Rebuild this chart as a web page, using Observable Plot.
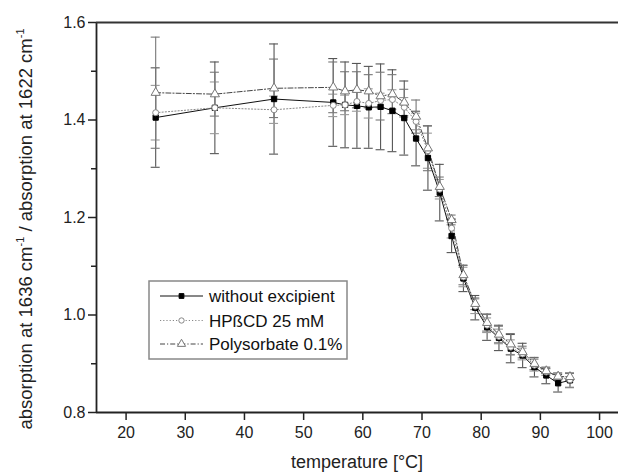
<!DOCTYPE html>
<html>
<head>
<meta charset="utf-8">
<script src="https://cdn.jsdelivr.net/npm/d3@7"></script>
<script src="https://cdn.jsdelivr.net/npm/@observablehq/plot@0.6"></script>
<style>
  html, body { margin: 0; padding: 0; background: #fff; }
  #chart { width: 618px; height: 473px; overflow: hidden; }
  svg { font-family: "Liberation Sans", Arial, sans-serif; }
</style>
</head>
<body>
<div id="chart"></div>
<script>
// ---- data ----
const temps = [25, 35, 45, 55, 57, 59, 61, 63, 65, 67, 69, 71, 73, 75, 77, 79, 81, 83, 85, 87, 89, 91, 93, 95];

const noExcipient    = [1.405, 1.425, 1.443, 1.436, 1.431, 1.429, 1.426, 1.427, 1.419, 1.404, 1.362, 1.322, 1.251, 1.162, 1.075, 1.015, 0.975, 0.953, 0.931, 0.917, 0.893, 0.876, 0.860, 0.866];
const noExcipientErr = [0.102, 0.094, 0.113, 0.090, 0.088, 0.087, 0.084, 0.088, 0.084, 0.076, 0.056, 0.066, 0.058, 0.034, 0.027, 0.025, 0.027, 0.026, 0.029, 0.025, 0.020, 0.017, 0.018, 0.015];

const hpbcd    = [1.415, 1.425, 1.421, 1.430, 1.431, 1.438, 1.434, 1.440, 1.442, 1.426, 1.397, 1.337, 1.258, 1.178, 1.078, 1.018, 0.979, 0.956, 0.934, 0.920, 0.897, 0.883, 0.874, 0.867];
const hpbcdErr = [0.056, 0.053, 0.028, 0.023, 0.020, 0.020, 0.030, 0.015, 0.020, 0.020, 0.017, 0.036, 0.020, 0.020, 0.020, 0.015, 0.015, 0.015, 0.015, 0.012, 0.012, 0.007, 0.007, 0.015];

const polysorbate    = [1.456, 1.453, 1.465, 1.467, 1.459, 1.462, 1.459, 1.449, 1.453, 1.436, 1.407, 1.342, 1.263, 1.195, 1.082, 1.023, 0.984, 0.960, 0.940, 0.924, 0.900, 0.885, 0.874, 0.873];
const polysorbateErr = [0.114, 0.045, 0.060, 0.052, 0.040, 0.037, 0.034, 0.049, 0.040, 0.027, 0.034, 0.046, 0.020, 0.010, 0.020, 0.012, 0.017, 0.017, 0.022, 0.012, 0.012, 0.005, 0.007, 0.007];

const seriesNames = ["without excipient", "HPßCD 25 mM", "Polysorbate 0.1%"];
const xTicks = [20, 30, 40, 50, 60, 70, 80, 90, 100];
const yTicks = [0.8, 1.0, 1.2, 1.4, 1.6];
const yMinorTicks = [0.9, 1.1, 1.3, 1.5];
const xDomain = [15, 103.2];
const yDomain = [0.8, 1.6];
const xTitle = "temperature [°C]";

// ---- tables ----
function rows(vals, errs, name) {
  return temps.map((t, i) => ({t, v: vals[i], lo: vals[i] - errs[i], hi: vals[i] + errs[i], name}));
}
const sA = rows(noExcipient, noExcipientErr, seriesNames[0]);
const sB = rows(hpbcd, hpbcdErr, seriesNames[1]);
const sC = rows(polysorbate, polysorbateErr, seriesNames[2]);

const styles = [
  {data: sA, line: "#111", dash: null, err: "#555", symbol: "square", fill: "#000", stroke: "#000", r: 3.0},
  {data: sB, line: "#888", dash: "1.2,2", err: "#999", symbol: "circle", fill: "#fff", stroke: "#888", r: 3.0},
  {data: sC, line: "#444", dash: "5,2,1.2,2", err: "#777", symbol: "triangle", fill: "#fff", stroke: "#777", r: 3.4}
];

const errMarks = [];
const lineMarks = [];
const dotMarks = [];
for (const s of styles) {
  errMarks.push(Plot.ruleX(s.data, {x: "t", y1: "lo", y2: "hi", stroke: s.err, strokeWidth: 1.1}));
  errMarks.push(Plot.ruleY(s.data, {y: "hi", x1: "t", x2: "t", insetLeft: -4.5, insetRight: -4.5, stroke: s.err, strokeWidth: 1.1}));
  errMarks.push(Plot.ruleY(s.data, {y: "lo", x1: "t", x2: "t", insetLeft: -4.5, insetRight: -4.5, stroke: s.err, strokeWidth: 1.1}));
  lineMarks.push(Plot.line(s.data, {x: "t", y: "v", stroke: s.line, strokeWidth: 1, strokeDasharray: s.dash}));
  dotMarks.push(Plot.dot(s.data, {x: "t", y: "v", symbol: () => s.symbol, r: s.r, fill: s.fill, stroke: s.stroke, strokeWidth: 1}));
}

const plot = Plot.plot({
  width: 618,
  height: 473,
  marginTop: 22,
  marginBottom: 61,
  marginLeft: 96,
  marginRight: 0,
  style: {fontFamily: "'Liberation Sans', Arial, sans-serif", background: "#fff", overflow: "hidden"},
  x: {domain: xDomain, axis: null},
  y: {domain: yDomain, axis: null},
  symbol: {type: "identity"},
  marks: [
    ...errMarks,
    ...lineMarks,
    ...dotMarks,
    Plot.axisX({ticks: xTicks, tickSize: 8, tickPadding: 6, fontSize: 16, label: null, stroke: "#222", strokeWidth: 1.5, color: "#222"}),
    Plot.axisY({ticks: yTicks, tickSize: 8, tickPadding: 3, fontSize: 16, label: null, tickFormat: d3.format(".1f"), stroke: "#222", strokeWidth: 1.5, color: "#222"}),
    Plot.axisY({ticks: yMinorTicks, tickSize: 5, label: null, tickFormat: () => "", stroke: "#222", strokeWidth: 1.5}),
    Plot.ruleX([xDomain[0]], {stroke: "#222", strokeWidth: 1.8}),
    Plot.ruleY([yDomain[0]], {stroke: "#222", strokeWidth: 1.8}),
    Plot.ruleY([yDomain[1]], {stroke: "#333", strokeWidth: 1.8})
  ]
});

document.getElementById("chart").appendChild(plot);

// ---- axis titles and legend ----
const svg = d3.select(plot);

svg.append("text")
  .attr("x", 357).attr("y", 468)
  .attr("text-anchor", "middle")
  .attr("font-size", 18)
  .attr("fill", "#222")
  .text(xTitle);

const yt = svg.append("text")
  .attr("transform", "translate(32,229) rotate(-90)")
  .attr("text-anchor", "middle")
  .attr("font-size", 18.5)
  .attr("fill", "#222");
yt.append("tspan").text("absorption at 1636 cm");
yt.append("tspan").attr("font-size", 11).attr("dy", -8).text("-1");
yt.append("tspan").attr("dy", 8).text(" / absorption at 1622 cm");
yt.append("tspan").attr("font-size", 11).attr("dy", -8).text("-1");

const lg = svg.append("g").attr("text-anchor", "start");
lg.append("rect")
  .attr("x", 149).attr("y", 281).attr("width", 198).attr("height", 78)
  .attr("fill", "#fff").attr("stroke", "#888").attr("stroke-width", 1.5);
const rowY = [296, 320.5, 344];
styles.forEach((s, i) => {
  const y = rowY[i];
  lg.append("line")
    .attr("x1", 160).attr("x2", 203).attr("y1", y).attr("y2", y)
    .attr("stroke", s.line).attr("stroke-width", 1)
    .attr("stroke-dasharray", s.dash);
  const sym = {square: d3.symbolSquare, circle: d3.symbolCircle, triangle: d3.symbolTriangle}[s.symbol];
  lg.append("path")
    .attr("transform", `translate(181.5,${y})`)
    .attr("d", d3.symbol(sym, Math.PI * s.r * s.r * 0.8)())
    .attr("fill", s.fill).attr("stroke", s.stroke).attr("stroke-width", 1);
  lg.append("text")
    .attr("x", 209).attr("y", y).attr("dy", "0.36em")
    .attr("text-anchor", "start")
    .attr("font-size", 17).attr("fill", "#111")
    .text(seriesNames[i]);
});
</script>
</body>
</html>
